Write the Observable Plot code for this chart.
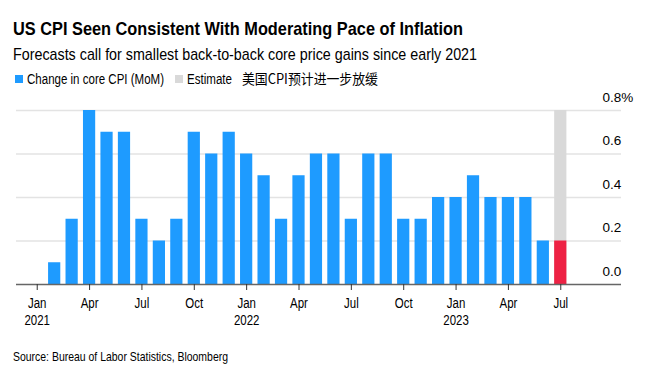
<!DOCTYPE html>
<html><head><meta charset="utf-8">
<script src="https://cdn.jsdelivr.net/npm/d3@7"></script>
<script src="https://cdn.jsdelivr.net/npm/@observablehq/plot@0.6"></script>
<style>
body{margin:0;background:#fff;}
#wrap{position:relative;width:651px;height:379px;font-family:"Liberation Sans",Arial,sans-serif;color:#000;}
.t{position:absolute;white-space:nowrap;transform-origin:0 0;}
#title{left:13px;top:18.5px;font-weight:bold;font-size:19px;line-height:19px;}
#sub{left:13px;top:46px;font-size:17px;line-height:17px;}
.lg{top:72px;font-size:14px;line-height:14px;}
.sw{position:absolute;top:75px;width:7.5px;height:8px;}
#src{left:13px;top:350px;font-size:13.5px;line-height:13.5px;}
#chart{position:absolute;left:0;top:88px;}
</style></head>
<body><div id="wrap">
<div class="t" id="title">US CPI Seen Consistent With Moderating Pace of Inflation</div>
<div class="t" id="sub">Forecasts call for smallest back-to-back core price gains since early 2021</div>
<span class="sw" style="left:15px;background:#1e9bff"></span>
<div class="t lg" id="lg1" style="left:27px">Change in core CPI (MoM)</div>
<span class="sw" style="left:175px;background:#d9d9d9"></span>
<div class="t lg" id="lg2" style="left:186.5px">Estimate</div>
<div class="t lg" id="lg3" style="left:242px;top:71px;font-family:'Noto Sans CJK SC',sans-serif;font-size:14px;">美国CPI预计进一步放缓</div>
<div id="chart"></div>
<div class="t" id="src">Source: Bureau of Labor Statistics, Bloomberg</div>
</div>
<script>
const months = ["2021-01","2021-02","2021-03","2021-04","2021-05","2021-06","2021-07","2021-08","2021-09","2021-10","2021-11","2021-12",
"2022-01","2022-02","2022-03","2022-04","2022-05","2022-06","2022-07","2022-08","2022-09","2022-10","2022-11","2022-12",
"2023-01","2023-02","2023-03","2023-04","2023-05","2023-06","2023-07"];
const coreCPI = [0.0,0.1,0.3,0.8,0.7,0.7,0.3,0.2,0.3,0.7,0.6,0.7,
0.6,0.5,0.3,0.5,0.6,0.6,0.3,0.6,0.6,0.3,0.3,0.4,
0.4,0.5,0.4,0.4,0.4,0.2,null];
const estimateMonth = "2023-07";
const estimateValue = 0.2;
const estimateBand = 0.8;
const yTicks = [0,0.2,0.4,0.6,0.8];
const xTickMonths = ["2021-01","2021-04","2021-07","2021-10","2022-01","2022-04","2022-07","2022-10","2023-01","2023-04","2023-07"];
const monthNames = {"01":"Jan","04":"Apr","07":"Jul","10":"Oct"};

const actual = months.map((m,i)=>({m, v: coreCPI[i]})).filter(d=>d.v!=null);
const est = [{m: estimateMonth, v: estimateValue, band: estimateBand}];

const chart = Plot.plot({
  width: 651, height: 250,
  marginTop: 22, marginBottom: 54, marginLeft: 28, marginRight: 82,
  x: {type:"band", domain: months, paddingInner:0.3, paddingOuter:0.15, align:0.5, round:false, axis:null},
  y: {domain:[0,0.8], axis:null},
  style: {fontFamily:"'Liberation Sans',Arial,sans-serif", background:"#fff"},
  marks: [
    Plot.ruleY(yTicks.filter(d=>d>0), {stroke:"#e3e3e3", strokeWidth:1.5, insetLeft:-12, insetRight:-52}),
    Plot.barY(est, {x:"m", y:"band", fill:"#d9d9d9"}),
    Plot.barY(actual, {x:"m", y:"v", fill:"#1e9bff"}),
    Plot.barY(est, {x:"m", y:"v", fill:"#ee2244"}),
    Plot.ruleY([0], {stroke:"#666", strokeWidth:1.5, insetLeft:-12, insetRight:-52}),
    Plot.axisX({ticks: xTickMonths, tickSize:6, tickPadding:6, stroke:"#333", fontSize:14, fill:"#000",
      label:null, lineHeight:1.2,
      tickFormat: d => { const [yy,mm] = d.split("-"); return mm==="01" ? monthNames[mm]+"\n"+yy : monthNames[mm]; }}),
    Plot.axisY({ticks: yTicks, anchor:"right", tickSize:0, tickPadding:0, dx:33, dy:-13, textAnchor:"start",
      fontSize:13.5, fill:"#000", label:null,
      tickFormat: d => d===0.8 ? "0.8%" : d.toFixed(1)})
  ]
});
document.getElementById("chart").appendChild(chart);

// condense x tick labels horizontally to match the narrow typeface
chart.querySelectorAll('g[aria-label="x-axis tick label"] text').forEach(t => {
  const tr = t.getAttribute("transform") || "";
  t.setAttribute("transform", tr + " scale(0.82,1)");
});

// fit HTML texts to the reference widths (narrow typeface)
const fits = {title:450, sub:464, lg1:137, lg2:45, lg3:136, src:215};
for (const [id,w] of Object.entries(fits)) {
  const el = document.getElementById(id);
  const cw = el.getBoundingClientRect().width;
  el.style.transform = `scaleX(${w/cw})`;
}
</script>
</body></html>
